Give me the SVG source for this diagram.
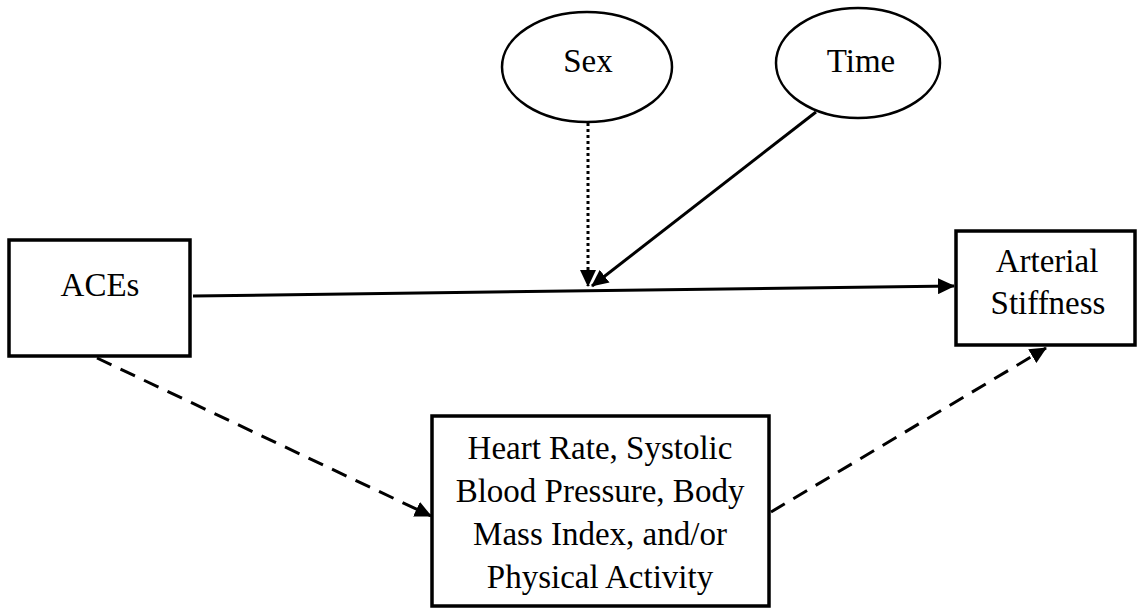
<svg xmlns="http://www.w3.org/2000/svg" width="1138" height="609" viewBox="0 0 1138 609">
<style>
.box{fill:#fff;stroke:#000;stroke-width:3.5}
.ell{fill:#fff;stroke:#000;stroke-width:2.5}
.t{font-family:"Liberation Serif","Times New Roman",serif;font-size:33px;fill:#000;text-anchor:middle}
.ln{fill:none;stroke:#000;stroke-width:3}
.dash{stroke-dasharray:16 10}
.dot{stroke-dasharray:3 3}
</style>
<defs>
<marker id="ah" markerUnits="userSpaceOnUse" markerWidth="18" markerHeight="16" refX="16" refY="8" orient="auto">
<path d="M0,0 L17,8 L0,16 Z" fill="#000"/>
</marker>
</defs>
<g id="connectors">
<line class="ln" x1="193" y1="296" x2="954" y2="286" marker-end="url(#ah)"/>
<line class="ln dot" x1="588" y1="123" x2="588" y2="286" marker-end="url(#ah)"/>
<line class="ln" x1="816" y1="112" x2="592" y2="286" marker-end="url(#ah)"/>
<line class="ln dash" x1="97" y1="358" x2="431" y2="516" marker-end="url(#ah)"/>
<line class="ln dash" x1="771" y1="512" x2="1046" y2="348" marker-end="url(#ah)"/>
</g>
<g id="aces">
<rect class="box" x="9" y="240" width="181" height="116"/>
<text class="t" x="100" y="296">ACEs</text>
</g>
<g id="arterial">
<rect class="box" x="956" y="231" width="179" height="114"/>
<text class="t" x="1047" y="272">Arterial</text>
<text class="t" x="1048" y="314">Stiffness</text>
</g>
<g id="mediators">
<rect class="box" x="432" y="416" width="337" height="190"/>
<text class="t" x="600" y="459">Heart Rate, Systolic</text>
<text class="t" x="600" y="502">Blood Pressure, Body</text>
<text class="t" x="600" y="545">Mass Index, and/or</text>
<text class="t" x="600" y="588">Physical Activity</text>
</g>
<g id="sex">
<ellipse class="ell" cx="587" cy="67" rx="85" ry="55"/>
<text class="t" x="588" y="72">Sex</text>
</g>
<g id="time">
<ellipse class="ell" cx="858" cy="63" rx="82" ry="55"/>
<text class="t" x="861" y="72">Time</text>
</g>
</svg>
